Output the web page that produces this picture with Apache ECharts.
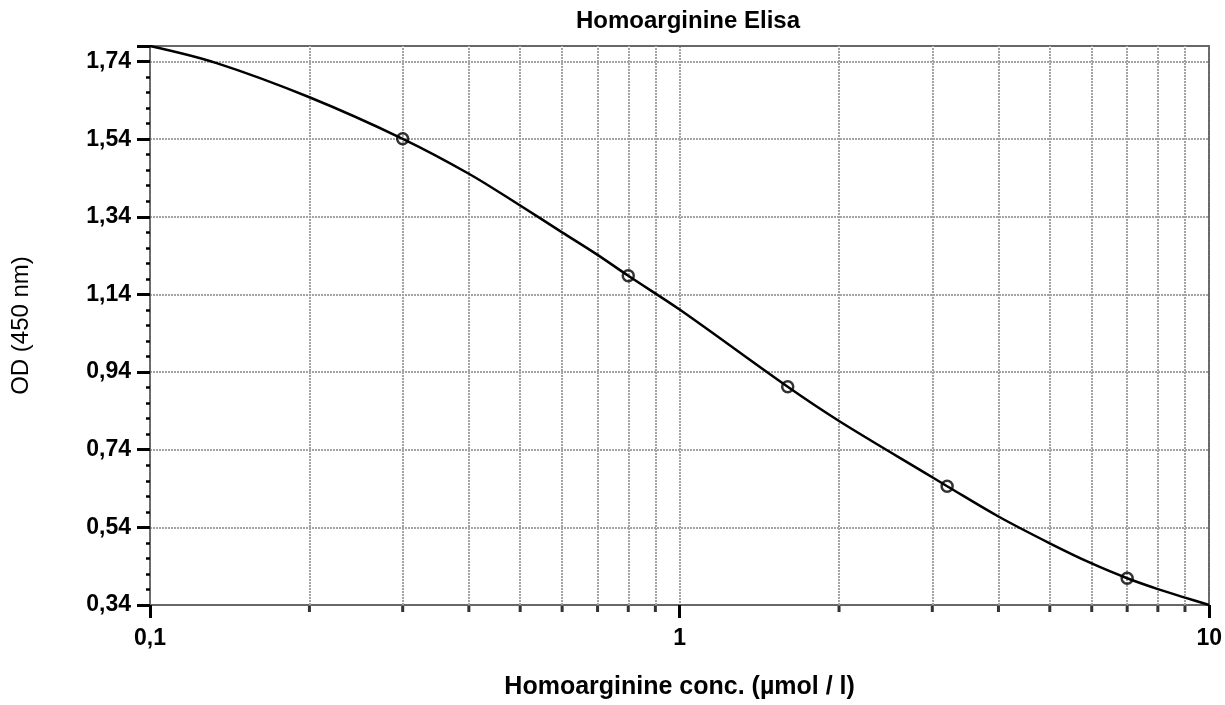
<!DOCTYPE html>
<html>
<head>
<meta charset="utf-8">
<script src="https://cdn.jsdelivr.net/npm/echarts@6/dist/echarts.min.js"></script>
<style>
html,body{margin:0;padding:0;background:#fff;}
#chart{width:1225px;height:705px;}
</style>
</head>
<body>
<div id="chart"></div>
<script>
// ---- data ----
const titleText = 'Homoarginine Elisa';
const xAxisTitle = 'Homoarginine conc. (\u00b5mol / l)';
const yAxisTitle = 'OD (450 nm)';

// standards (measured points)
const stdConc = [0.3, 0.8, 1.6, 3.2, 7];
const stdOD   = [1.541, 1.188, 0.902, 0.646, 0.409];

// fitted curve
const curveConc = [0.1, 0.1336, 0.2, 0.3, 0.4, 0.5, 0.6, 0.7, 0.8, 1, 1.6, 2, 3, 3.2, 4, 5, 6, 7, 8, 9, 10];
const curveOD   = [1.78, 1.736, 1.648, 1.541, 1.451, 1.369, 1.300, 1.242, 1.188, 1.101, 0.902, 0.814, 0.669, 0.646, 0.568, 0.499, 0.447, 0.409, 0.381, 0.359, 0.34];

// axis settings
const xMin = 0.1, xMax = 10;
const yMin = 0.34, yMax = 1.78, yStep = 0.2;
const xMinorGrid = [0.2, 0.3, 0.4, 0.5, 0.6, 0.7, 0.8, 0.9, 2, 3, 4, 5, 6, 7, 8, 9];

const FONT = "'Liberation Sans', Arial, sans-serif";
const gridLine = { color: '#a4a4a4', type: [2, 1], width: 2 };
const borderLine = { color: '#666', type: [1, 1], width: 2 };

const chart = echarts.init(document.getElementById('chart'), null, { renderer: 'canvas' });

const curve = curveConc.map((c, i) => [c, curveOD[i]]);
const stds = stdConc.map((c, i) => [c, stdOD[i]]);
const minorTickPts = xMinorGrid.map(v => [v, yMin]);

const option = {
  animation: false,
  backgroundColor: '#fff',
  grid: { left: 150, right: 13, top: 46, bottom: 100, containLabel: false },
  graphic: [{
    type: 'text', x: 688, y: 21,
    style: { text: titleText, textAlign: 'center', textVerticalAlign: 'middle',
             font: "bold 24px " + FONT, fill: '#000' }
  }],
  xAxis: [{
    type: 'log', logBase: 10, min: xMin, max: xMax, position: 'bottom',
    name: xAxisTitle, nameLocation: 'middle', nameGap: 70,
    nameTextStyle: { fontFamily: FONT, fontWeight: 'bold', fontSize: 25, color: '#000', verticalAlign: 'top' },
    axisLine: { show: true, lineStyle: borderLine },
    axisTick: { show: true, inside: false, length: 13, lineStyle: { color: '#000', width: 3 } },
    minorTick: { show: false },
    axisLabel: { show: true, margin: 22, fontFamily: FONT, fontWeight: 'bold', fontSize: 23, color: '#000',
      formatter: v => String(v).replace('.', ',') },
    splitLine: { show: true, lineStyle: gridLine }
  }, {
    type: 'log', logBase: 10, min: xMin, max: xMax, position: 'top',
    axisLine: { show: true, lineStyle: borderLine },
    axisTick: { show: false }, axisLabel: { show: false }, splitLine: { show: false }
  }],
  yAxis: [{
    type: 'value', min: yMin, max: yMax, interval: yStep, position: 'left',
    name: yAxisTitle, nameLocation: 'middle', nameGap: 117, nameRotate: 90,
    nameTextStyle: { fontFamily: FONT, fontWeight: 'normal', fontSize: 24, color: '#000' },
    axisLine: { show: true, lineStyle: borderLine },
    axisTick: { show: true, inside: false, length: 13, lineStyle: { color: '#000', width: 3 } },
    minorTick: { show: true, splitNumber: 5, length: 4, lineStyle: { color: '#000', width: 2.5 } },
    axisLabel: { show: true, margin: 19, fontFamily: FONT, fontWeight: 'bold', fontSize: 23, color: '#000',
      showMaxLabel: false,
      formatter: v => (v > yMax - 0.01 ? '' : v.toFixed(2).replace('.', ',')) },
    splitLine: { show: true, lineStyle: gridLine },
    minorSplitLine: { show: false }
  }, {
    type: 'value', min: yMin, max: yMax, interval: yStep, position: 'right',
    axisLine: { show: true, lineStyle: borderLine },
    axisTick: { show: false }, axisLabel: { show: false }, splitLine: { show: false }
  }],
  series: [{
    type: 'line', name: 'fit', data: curve, xAxisIndex: 0, yAxisIndex: 0,
    showSymbol: false, smooth: 0.35, z: 5,
    lineStyle: { color: '#000', width: 2.5 },
    markLine: {
      silent: true, symbol: ['none', 'none'], label: { show: false },
      lineStyle: gridLine, z: 1, animation: false,
      data: xMinorGrid.map(v => ({ xAxis: v }))
    }
  }, {
    type: 'scatter', name: 'standards', data: stds, xAxisIndex: 0, yAxisIndex: 0,
    symbol: 'circle', symbolSize: 11, z: 6,
    itemStyle: { color: 'rgba(0,0,0,0)', borderColor: '#000', borderWidth: 2.5 }
  }, {
    type: 'scatter', name: 'minorTicks', data: minorTickPts, xAxisIndex: 0, yAxisIndex: 0,
    symbol: 'rect', symbolSize: [3, 6], symbolOffset: [0, 4], clip: false, silent: true, z: 7,
    itemStyle: { color: '#000' }
  }]
};
chart.setOption(option);
</script>
</body>
</html>
